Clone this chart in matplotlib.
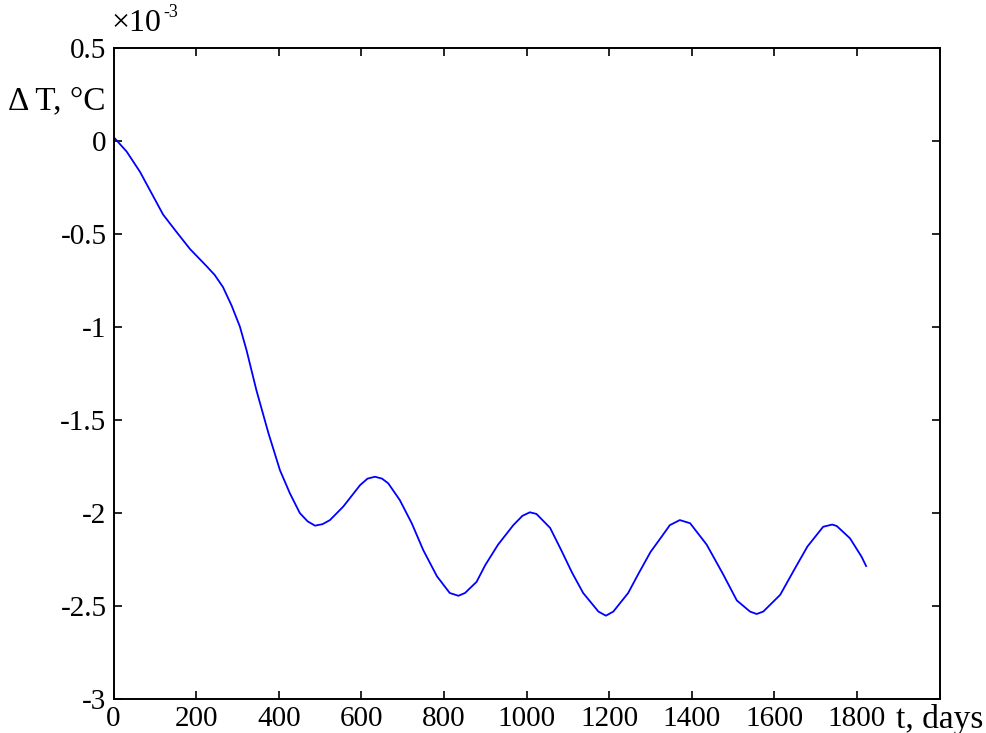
import matplotlib
matplotlib.use('Agg')
import matplotlib.pyplot as plt

# values, dT in units of 1e-3 degC
t_days = [0, 3, 32, 64, 92, 120, 153, 185, 225, 245, 265, 286, 306, 322, 346,
          375, 403, 427, 451, 470, 488, 506, 524, 556, 597, 615, 633, 650,
          665, 693, 722, 750, 783, 814, 835, 851, 879, 900, 931, 968, 990,
          1008, 1024, 1057, 1084, 1110, 1137, 1174, 1192, 1210, 1246, 1270,
          1300, 1327, 1347, 1371, 1396, 1436, 1476, 1509, 1541, 1557, 1573,
          1614, 1650, 1680, 1718, 1740, 1751, 1783, 1811, 1822]
dT = [0.02, 0.015, -0.057, -0.165, -0.28, -0.395, -0.49, -0.58, -0.672,
      -0.72, -0.785, -0.885, -0.998, -1.124, -1.34, -1.57, -1.77, -1.894,
      -2.00, -2.045, -2.068, -2.06, -2.038, -1.966, -1.85, -1.815, -1.805,
      -1.815, -1.84, -1.93, -2.055, -2.20, -2.34, -2.43, -2.445, -2.43, -2.37,
      -2.28, -2.17, -2.065, -2.015, -1.996, -2.005, -2.08, -2.20, -2.32,
      -2.43, -2.53, -2.552, -2.53, -2.43, -2.33, -2.21, -2.127, -2.065,
      -2.038, -2.055, -2.17, -2.33, -2.47, -2.53, -2.543, -2.53, -2.44,
      -2.297, -2.18, -2.074, -2.062, -2.07, -2.136, -2.235, -2.285]

xticks = [0, 200, 400, 600, 800, 1000, 1200, 1400, 1600, 1800]
yticks = [0.5, 0, -0.5, -1, -1.5, -2, -2.5, -3]
ytick_labels = ['0.5', '0', '-0.5', '-1', '-1.5', '-2', '-2.5', '-3']

plt.rcParams['font.family'] = ['Liberation Serif', 'DejaVu Serif']

fig = plt.figure(figsize=(9.87, 7.33), dpi=100)
ax = fig.add_axes([0.115, 0.0464, 0.837, 0.888])
ax.plot(t_days, dT, color=(0, 0, 1), lw=1.3)

ax.set_xlim(0, 2000)
ax.set_ylim(-3, 0.5)
ax.set_xticks(xticks + [2000])
ax.set_xticklabels([str(v) for v in xticks] + [''])
ax.set_yticks(yticks)
ax.set_yticklabels(ytick_labels)
ax.tick_params(direction='in', length=6, width=1.2, top=True, right=True,
               labelsize=21, pad=5)
for s in ax.spines.values():
    s.set_linewidth(1.4)

# exponent marker, MATLAB style
fig.text(0.113, 0.948, '\u00d710', fontsize=23, ha='left', va='bottom')
fig.text(0.166, 0.972, '-3', fontsize=13, ha='left', va='bottom')
fig.text(0.107, 0.862, '\u0394 T, \u00b0C', fontsize=24, ha='right', va='center')
fig.text(0.908, 0.019, 't, days', fontsize=24, ha='left', va='center')

fig.savefig('out.png', dpi=100)
